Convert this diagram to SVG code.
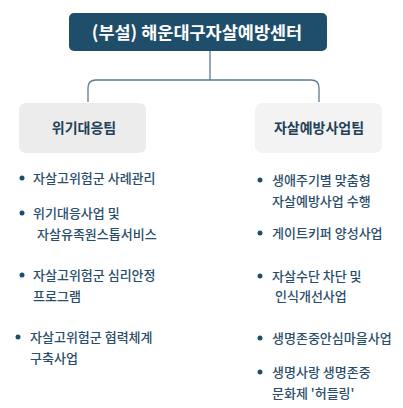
<svg xmlns="http://www.w3.org/2000/svg" width="403" height="408" viewBox="0 0 403 408">
<style>
text{font-family:"Noto Sans CJK KR","Noto Sans",sans-serif}
.title{fill:#ffffff;font-size:17.5px;font-weight:700}
.team{fill:#243f57;font-size:14px;font-weight:700}
.item{fill:#2a4d6b;font-size:13px;font-weight:500}
.dot{fill:#1f4e6a}
.conn{fill:none;stroke:#5c7a90;stroke-width:1.3}
</style>
<rect width="403" height="408" fill="#ffffff"/>
<g id="connectors">
<path class="conn" d="M210 51 V80"/>
<path class="conn" d="M88 102 V88 Q88 80 96 80 H311 Q319 80 319 88 V102"/>
</g>
<g id="center">
<rect x="69" y="13" width="258" height="38" rx="5" fill="#1f4e6a"/>
<text class="title" x="197" y="39" text-anchor="middle">(부설) 해운대구자살예방센터</text>
</g>
<g id="team-crisis">
<rect x="19" y="103" width="127" height="50" rx="7" fill="#ececec"/>
<text class="team" x="84" y="133" text-anchor="middle">위기대응팀</text>
</g>
<g id="team-prevention">
<rect x="255" y="103" width="127" height="50" rx="7" fill="#f3f3f3"/>
<text class="team" x="319" y="133" text-anchor="middle">자살예방사업팀</text>
</g>
<g id="crisis-items">
<circle class="dot" cx="22" cy="178" r="2.5"/>
<text class="item" x="33" y="182.5">자살고위험군 사례관리</text>
<circle class="dot" cx="22" cy="213" r="2.5"/>
<text class="item" x="33" y="217.5">위기대응사업 및</text>
<text class="item" x="37" y="238.5">자살유족원스톱서비스</text>
<circle class="dot" cx="22" cy="275" r="2.5"/>
<text class="item" x="33" y="279.5">자살고위험군 심리안정</text>
<text class="item" x="33" y="300.5">프로그램</text>
<circle class="dot" cx="18" cy="337" r="2.5"/>
<text class="item" x="30" y="341.5">자살고위험군 협력체계</text>
<text class="item" x="30" y="362.5">구축사업</text>
</g>
<g id="prevention-items">
<circle class="dot" cx="260" cy="180" r="2.5"/>
<text class="item" x="272" y="184.5">생애주기별 맞춤형</text>
<text class="item" x="272" y="205.5">자살예방사업 수행</text>
<circle class="dot" cx="260" cy="233" r="2.5"/>
<text class="item" x="272" y="237.5">게이트키퍼 양성사업</text>
<circle class="dot" cx="260" cy="276" r="2.5"/>
<text class="item" x="272" y="280.5">자살수단 차단 및</text>
<text class="item" x="275" y="300.5">인식개선사업</text>
<circle class="dot" cx="260" cy="338" r="2.5"/>
<text class="item" x="272" y="342.5">생명존중안심마을사업</text>
<circle class="dot" cx="260" cy="372" r="2.5"/>
<text class="item" x="272" y="376.5">생명사랑 생명존중</text>
<text class="item" x="272" y="397.5">문화제 '허들링'</text>
</g>
</svg>
